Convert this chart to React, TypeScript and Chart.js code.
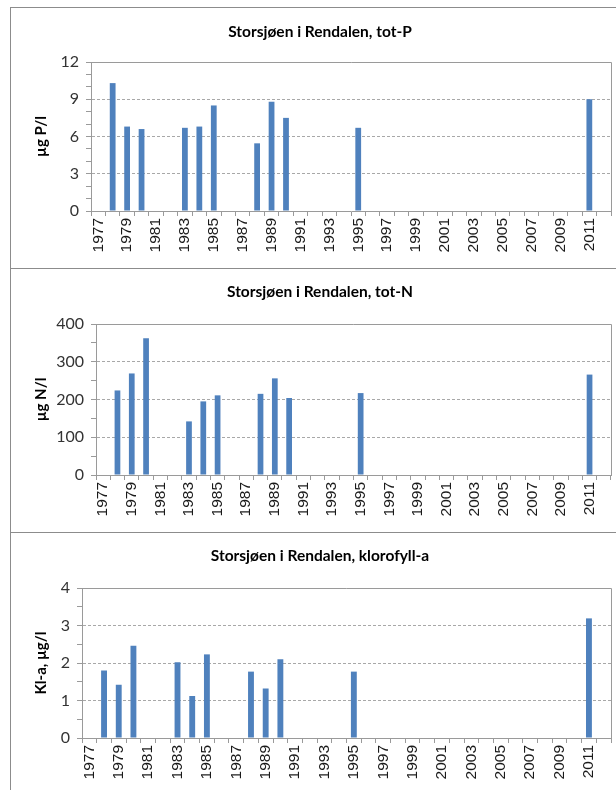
import React, { useEffect, useRef } from 'react';
import { Chart, registerables } from 'chart.js';

Chart.register(...registerables);

// ---- data ----
const years = [
  '1977', '1978', '1979', '1980', '1981', '1982', '1983', '1984', '1985', '1986',
  '1987', '1988', '1989', '1990', '1991', '1992', '1993', '1994', '1995', '1996',
  '1997', '1998', '1999', '2000', '2001', '2002', '2003', '2004', '2005', '2006',
  '2007', '2008', '2009', '2010', '2011', '2012',
];
const sampleYears = ['1978', '1979', '1980', '1983', '1984', '1985', '1988', '1989', '1990', '1995', '2011'];
const totP = [10.3, 6.8, 6.6, 6.7, 6.8, 8.5, 5.45, 8.8, 7.5, 6.7, 9.0];
const totN = [224, 269, 362, 142, 195, 211, 215, 256, 204, 217, 266];
const klorofyll = [1.8, 1.42, 2.46, 2.02, 1.12, 2.23, 1.77, 1.32, 2.1, 1.77, 3.19];

const yTicksP = [0, 3, 6, 9, 12];
const yTicksN = [0, 100, 200, 300, 400];
const yTicksK = [0, 1, 2, 3, 4];

const titles = [
  'Storsjøen i Rendalen, tot-P',
  'Storsjøen i Rendalen, tot-N',
  'Storsjøen i Rendalen, klorofyll-a',
];
const yTitles = ['µg P/l', 'µg N/l', 'Kl-a, µg/l'];

function toSeries(values: number[]): (number | null)[] {
  return years.map((y) => {
    const i = sampleYears.indexOf(y);
    return i >= 0 ? values[i] : null;
  });
}

// ---- layout / style ----
const AXIS = '#9a9a9a';
const GRID = '#a8a8a8';
const BAR = '#4f81bd';

const panelTitlePlugin = {
  id: 'panelTitle',
  afterDraw(chart: any, _args: any, opts: any) {
    const { ctx, chartArea: a } = chart;
    ctx.save();
    ctx.strokeStyle = AXIS;
    ctx.lineWidth = 1;
    ctx.beginPath();
    ctx.moveTo(Math.round(a.left), Math.round(a.top) + 0.5);
    ctx.lineTo(Math.round(a.right) + 0.5, Math.round(a.top) + 0.5);
    ctx.lineTo(Math.round(a.right) + 0.5, Math.round(a.bottom));
    ctx.stroke();
    ctx.font = 'bold 15.5px Lato';
    ctx.fillStyle = '#000';
    ctx.textAlign = 'center';
    ctx.textBaseline = 'middle';
    ctx.fillText(opts.text, opts.x, opts.y);
    ctx.restore();
  },
};

type PanelProps = {
  title: string;
  yTitle: string;
  values: number[];
  yTicks: number[];
  minor: number;
  boxTop: number;
  boxHeight: number;
  canvasHeight: number;
  plotLeft: number;
  plotTop: number;
  plotBottom: number;
  titleY: number;
};

function Panel(p: PanelProps) {
  const ref = useRef<HTMLCanvasElement | null>(null);
  useEffect(() => {
    if (!ref.current) return;
    const major = p.yTicks[1] - p.yTicks[0];
    const max = p.yTicks[p.yTicks.length - 1];
    const chart = new Chart(ref.current, {
      type: 'bar',
      data: {
        labels: years,
        datasets: [
          {
            data: toSeries(p.values),
            backgroundColor: BAR,
            borderWidth: 0,
            barPercentage: 0.4,
            categoryPercentage: 1,
          },
        ],
      },
      plugins: [panelTitlePlugin],
      options: {
        responsive: false,
        animation: false,
        layout: { padding: { top: p.plotTop, right: 5, left: 0, bottom: 0 } },
        plugins: {
          legend: { display: false },
          tooltip: { enabled: false },
          panelTitle: { text: p.title, x: 309, y: p.titleY },
        } as any,
        scales: {
          x: {
            type: 'category',
            offset: true,
            grid: {
              offset: true,
              drawOnChartArea: false,
              drawTicks: true,
              tickLength: 5,
              color: AXIS,
            },
            border: { display: true, color: AXIS },
            ticks: {
              autoSkip: false,
              maxRotation: 90,
              minRotation: 90,
              padding: 2,
              font: { family: 'Liberation Sans', size: 15.5 },
              color: '#1a1a1a',
              callback: (_v: any, i: number) => (i % 2 === 0 ? years[i] : ''),
            },
            afterFit: (s: any) => {
              s.height = p.canvasHeight - p.plotBottom;
              s.paddingLeft = 0;
              s.paddingRight = 0;
            },
          },
          y: {
            min: 0,
            max: max,
            grid: {
              drawTicks: true,
              tickLength: 5,
              color: (c: any) => {
                const v = c.tick ? c.tick.value : 0;
                const isMajor = Math.abs(v / major - Math.round(v / major)) < 1e-6;
                return isMajor && v !== 0 && v !== max ? GRID : 'rgba(0,0,0,0)';
              },
              tickColor: AXIS,
            },
            border: { display: true, color: AXIS, dash: [3, 2] },
            ticks: {
              stepSize: p.minor,
              autoSkip: false,
              padding: 7,
              font: { family: 'Lato', size: 16 },
              color: '#333',
              callback: (v: any) => (p.yTicks.indexOf(Number(v)) >= 0 ? String(v) : ''),
            },
            title: {
              display: true,
              text: p.yTitle,
              font: { family: 'Lato', size: 15, weight: 'bold' },
              color: '#000',
              padding: { top: 21, bottom: 0 },
            },
            afterFit: (s: any) => {
              s.width = p.plotLeft;
              s.paddingTop = 0;
              s.paddingBottom = 0;
            },
          },
        },
      } as any,
    });
    return () => chart.destroy();
  }, []);

  return (
    <div
      style={{
        position: 'absolute',
        left: 10,
        top: p.boxTop,
        width: 640,
        height: p.boxHeight,
        border: '1px solid #8c8c8c',
        boxSizing: 'border-box',
        background: '#fff',
      }}
    >
      <canvas
        ref={ref}
        width={605}
        height={p.canvasHeight}
        style={{ position: 'absolute', left: 0, top: 0, width: 605, height: p.canvasHeight }}
      />
    </div>
  );
}

export default function App() {
  return (
    <div
      style={{
        position: 'absolute',
        left: 0,
        top: 0,
        width: 616,
        height: 790,
        overflow: 'hidden',
        background: '#fff',
      }}
    >
      <Panel
        title={titles[0]}
        yTitle={yTitles[0]}
        values={totP}
        yTicks={yTicksP}
        minor={1}
        boxTop={7}
        boxHeight={262}
        canvasHeight={260}
        plotLeft={80}
        plotTop={54}
        plotBottom={203}
        titleY={24}
      />
      <Panel
        title={titles[1]}
        yTitle={yTitles[1]}
        values={totN}
        yTicks={yTicksN}
        minor={50}
        boxTop={268}
        boxHeight={265}
        canvasHeight={263}
        plotLeft={85}
        plotTop={55}
        plotBottom={206}
        titleY={23}
      />
      <Panel
        title={titles[2]}
        yTitle={yTitles[2]}
        values={klorofyll}
        yTicks={yTicksK}
        minor={0.5}
        boxTop={532}
        boxHeight={270}
        canvasHeight={257}
        plotLeft={71}
        plotTop={55}
        plotBottom={205}
        titleY={23}
      />
    </div>
  );
}
